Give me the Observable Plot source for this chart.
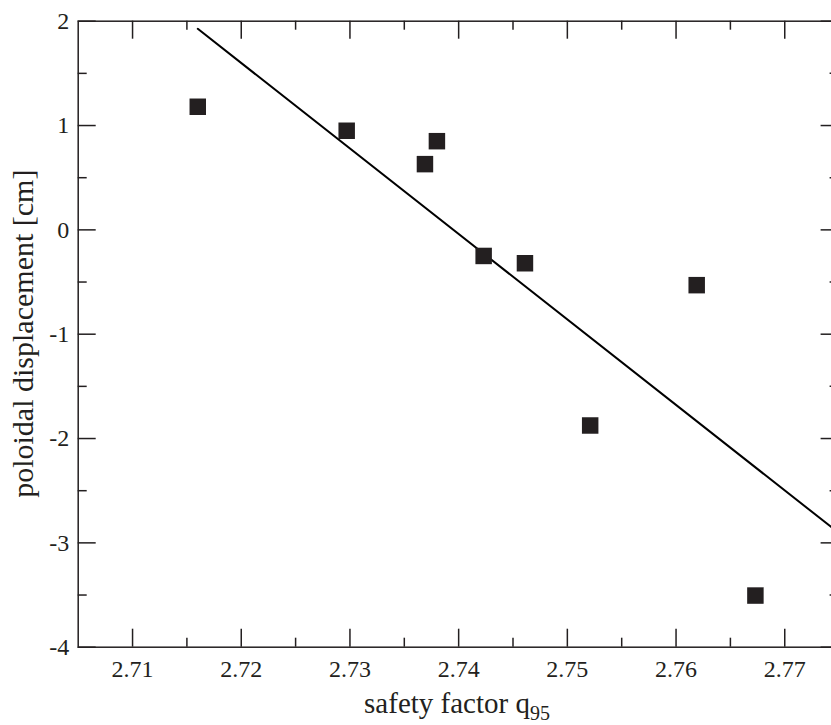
<!DOCTYPE html>
<html>
<head>
<meta charset="utf-8">
<script src="https://cdn.jsdelivr.net/npm/d3@7"></script>
<script src="https://cdn.jsdelivr.net/npm/@observablehq/plot@0.6"></script>
<style>
  html, body { margin: 0; padding: 0; background: white; overflow: hidden; }
</style>
</head>
<body>
<div id="chart"></div>
<script>
// Measured data (safety factor q95 vs poloidal displacement [cm])
const q95 = [2.716, 2.7297, 2.7369, 2.7380, 2.7423, 2.7461, 2.7521, 2.7619, 2.7673];
const displacement = [1.18, 0.95, 0.63, 0.85, -0.25, -0.32, -1.875, -0.53, -3.505];

// Linear fit line
const fitQ = [2.716, 2.775];
const fitD = [1.927, -2.907];

// Tick values
const xMajor = [2.71, 2.72, 2.73, 2.74, 2.75, 2.76, 2.77];
const xMinor = [2.715, 2.725, 2.735, 2.745, 2.755, 2.765];
const yMajor = [2, 1, 0, -1, -2, -3, -4];
const yMinor = [1.5, 0.5, -0.5, -1.5, -2.5, -3.5];

const xLabel = "safety factor q";
const xLabelSub = "95";
const yLabel = "poloidal displacement [cm]";

const points = q95.map((q, i) => ({q, d: displacement[i]}));
const fit = fitQ.map((q, i) => ({q, d: fitD[i]}));

const W = 831, H = 725;
const mL = 77.7, mT = 20.7, mB = H - 646.7, mR = W - 838.6;
const innerH = H - mT - mB;
const innerW = W - mL - mR;
const ink = "#231f20";
const serif = "Liberation Serif";
const majorLen = 18, minorLen = 9;

const chart = Plot.plot({
  width: W,
  height: H,
  marginLeft: mL,
  marginRight: mR,
  marginTop: mT,
  marginBottom: mB,
  x: {domain: [2.705, 2.775]},
  y: {domain: [-4, 2]},
  style: {fontFamily: serif, fontSize: "24px", color: ink, background: "white"},
  marks: [
    // ticks (inward, all four sides)
    Plot.tickX(xMajor, {x: d => d, insetTop: innerH - majorLen, stroke: ink, strokeWidth: 1.5}),
    Plot.tickX(xMajor, {x: d => d, insetBottom: innerH - majorLen, stroke: ink, strokeWidth: 1.5}),
    Plot.tickX(xMinor, {x: d => d, insetTop: innerH - minorLen, stroke: ink, strokeWidth: 1.5}),
    Plot.tickX(xMinor, {x: d => d, insetBottom: innerH - minorLen, stroke: ink, strokeWidth: 1.5}),
    Plot.tickY(yMajor, {y: d => d, insetRight: innerW - majorLen, stroke: ink, strokeWidth: 1.5}),
    Plot.tickY(yMajor, {y: d => d, insetLeft: innerW - majorLen, stroke: ink, strokeWidth: 1.5}),
    Plot.tickY(yMinor, {y: d => d, insetRight: innerW - minorLen, stroke: ink, strokeWidth: 1.5}),
    Plot.tickY(yMinor, {y: d => d, insetLeft: innerW - minorLen, stroke: ink, strokeWidth: 1.5}),
    Plot.axisX(xMajor, {anchor: "bottom", tickSize: 0, tickPadding: 13, tickFormat: d3.format(".2f"), label: null, fontSize: 24, fontFamily: serif, fill: ink}),
    Plot.axisY(yMajor, {anchor: "left", tickSize: 0, tickPadding: 9, tickFormat: d => String(d), label: null, fontSize: 24, fontFamily: serif, fill: ink}),
    Plot.line(fit, {x: "q", y: "d", stroke: "black", strokeWidth: 2}),
    Plot.dot(points, {x: "q", y: "d", symbol: "square", r: 9.3, fill: ink, stroke: "none"}),
    Plot.frame({stroke: ink, strokeWidth: 1.5})
  ]
});

const svg = d3.select(chart);
svg.selectAll("[aria-label^='x-axis'] text, [aria-label^='y-axis'] text")
  .style("font-family", serif).style("font-size", "24px").style("font-variant", "normal");

// x-axis label with subscript
const xt = svg.append("text")
  .attr("x", 457).attr("y", 713)
  .attr("text-anchor", "middle")
  .attr("fill", ink)
  .style("font-family", serif)
  .style("font-size", "29px");
xt.append("tspan").text(xLabel);
xt.append("tspan").attr("dy", 7).style("font-size", "20px").text(xLabelSub);

// y-axis label
svg.append("text")
  .attr("transform", "translate(33,333.7) rotate(-90)")
  .attr("text-anchor", "middle")
  .attr("fill", ink)
  .style("font-family", serif)
  .style("font-size", "30px")
  .text(yLabel);

document.getElementById("chart").appendChild(chart);
</script>
</body>
</html>
